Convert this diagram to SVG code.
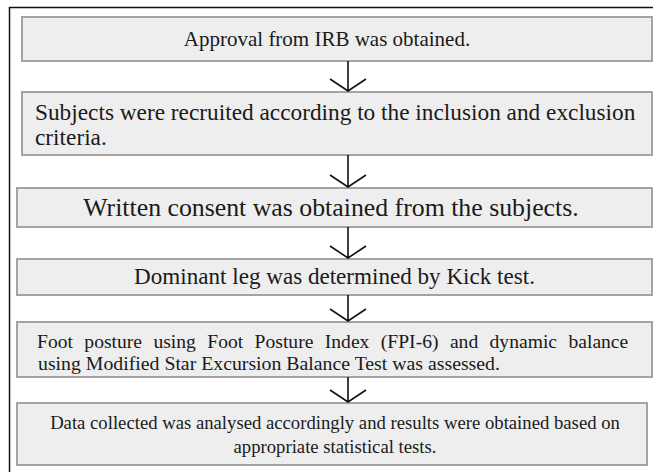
<svg xmlns="http://www.w3.org/2000/svg" width="653" height="472" viewBox="0 0 653 472">
<style>
.box{fill:#eeeeee;stroke:#a3a3a3;stroke-width:2}
text{font-family:'Liberation Serif','Times New Roman','DejaVu Serif',serif;fill:#1a1a1a}
.c{text-anchor:middle}
.conn{fill:none;stroke:#111;stroke-width:1.6}
</style>
<rect x="0" y="0" width="653" height="472" fill="#fff"/>
<path d="M9.5 472V7.5H653" fill="none" stroke="#111" stroke-width="1.5"/>
<g id="n1"><rect class="box" x="22" y="17" width="630" height="44"/><text class="c" x="327" y="46" font-size="21">Approval from IRB was obtained.</text></g>
<g id="n2"><rect class="box" x="22" y="92" width="630" height="63"/><text x="35" y="120" font-size="23.3">Subjects were recruited according to the inclusion and exclusion</text><text x="35" y="145" font-size="23.3">criteria.</text></g>
<g id="n3"><rect class="box" x="17" y="188" width="635" height="39"/><text class="c" x="331" y="216" font-size="25.8">Written consent was obtained from the subjects.</text></g>
<g id="n4"><rect class="box" x="17" y="259" width="635" height="36"/><text class="c" x="334.5" y="284" font-size="23.1">Dominant leg was determined by Kick test.</text></g>
<g id="n5"><rect class="box" x="17" y="322" width="635" height="55"/><text x="37" y="348" font-size="19.6" word-spacing="6.5">Foot posture using Foot Posture Index (FPI-6) and dynamic balance</text><text x="38" y="370" font-size="19.8">using Modified Star Excursion Balance Test was assessed.</text></g>
<g id="n6"><rect class="box" x="17" y="403" width="630" height="62"/><text class="c" x="335" y="429" font-size="18.7">Data collected was analysed accordingly and results were obtained based on</text><text class="c" x="335" y="453" font-size="18.7">appropriate statistical tests.</text></g>
<g id="connectors" class="conn">
<path d="M348 61V91M330 79L348 91L366 79"/>
<path d="M348 155V187M330 175L348 187L366 175"/>
<path d="M348 227V258M330 246L348 258L366 246"/>
<path d="M348 295V321M330 309L348 321L366 309"/>
<path d="M348 377V402M330 390L348 402L366 390"/>
</g>
</svg>
